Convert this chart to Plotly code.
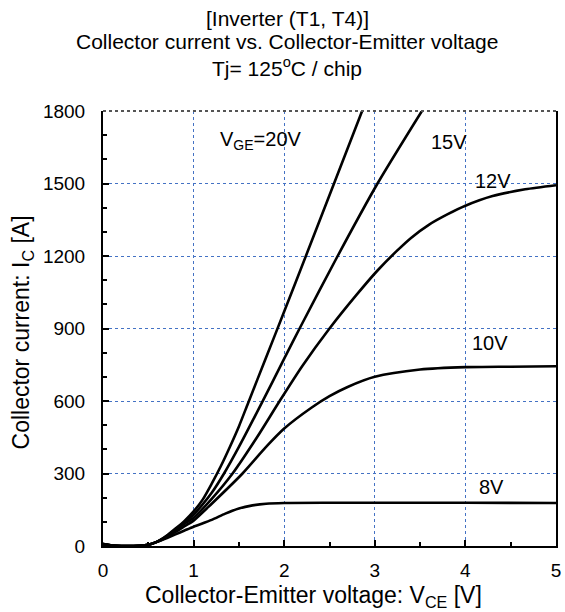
import plotly.graph_objects as go

# ---- data ----
vce_20 = [0, 0.1, 0.2, 0.4, 0.5, 0.6, 0.7, 0.8, 0.9, 1.0, 1.1, 1.2, 1.3, 1.4, 1.5, 1.6, 1.8, 2.0, 2.25, 2.55, 2.86]
ic_20 = [8, 2, 0, 1, 5, 18, 42, 72, 104, 143, 192, 258, 330, 410, 495, 590, 780, 970, 1210, 1500, 1800]

vce_15 = [0, 0.1, 0.2, 0.4, 0.5, 0.6, 0.7, 0.8, 0.9, 1.0, 1.1, 1.2, 1.336, 1.5, 1.75, 2.0, 2.17, 2.59, 3.03, 3.52]
ic_15 = [8, 2, 0, 1, 5, 18, 40, 68, 98, 130, 172, 220, 300, 410, 590, 775, 900, 1200, 1500, 1800]

vce_12 = [0, 0.1, 0.2, 0.4, 0.5, 0.6, 0.7, 0.8, 0.9, 1.0, 1.2, 1.43, 1.7, 1.95, 2.2, 2.5, 2.8, 3.03,
          3.24, 3.4, 3.6, 3.8, 4.0, 4.3, 4.66, 5.0]
ic_12 = [8, 2, 0, 1, 5, 18, 38, 64, 92, 117, 195, 300, 450, 600, 745, 900, 1040, 1140,
         1220, 1275, 1330, 1372, 1408, 1448, 1476, 1493]

vce_10 = [0, 0.1, 0.2, 0.4, 0.5, 0.6, 0.7, 0.8, 0.9, 1.0, 1.2, 1.54, 1.8, 2.0, 2.3, 2.5, 2.7, 3.0, 3.5, 4.0, 4.5, 5.0]
ic_10 = [8, 2, 0, 1, 5, 18, 36, 58, 82, 105, 175, 300, 410, 486, 572, 620, 658, 700, 730, 740, 742, 744]

vce_8 = [0, 0.1, 0.2, 0.4, 0.5, 0.6, 0.7, 0.8, 0.9, 1.0, 1.2, 1.35, 1.5, 1.65, 1.8, 2.0, 2.5, 3.0, 4.0, 5.0]
ic_8 = [8, 2, 0, 1, 5, 17, 32, 48, 64, 80, 108, 134, 155, 168, 175, 178, 179, 179, 179, 178]

series = [(vce_20, ic_20), (vce_15, ic_15), (vce_12, ic_12), (vce_10, ic_10), (vce_8, ic_8)]

curve_labels = ["V<sub>GE</sub>=20V", "15V", "12V", "10V", "8V"]
label_x = [1.74, 3.82, 4.31, 4.27, 4.29]
label_y = [1677, 1673, 1511, 838, 244]

x_ticks = [0, 1, 2, 3, 4, 5]
y_ticks = [0, 300, 600, 900, 1200, 1500, 1800]

title_lines = ["[Inverter (T1, T4)]",
               "Collector current vs. Collector-Emitter voltage",
               "Tj= 125<sup>o</sup>C / chip"]
x_title = "Collector-Emitter voltage: V<sub>CE</sub> [V]"
y_title = "Collector current: I<sub>C</sub> [A]"

# ---- figure ----
W, H = 565, 612
ml, mr, mt, mb = 102.5, 4, 111, 66
pw, ph = W - ml - mr, H - mt - mb
FONT = "Arial, Liberation Sans, sans-serif"

fig = go.Figure()
for vx, iy in series:
    fig.add_trace(go.Scatter(x=vx, y=iy, mode="lines",
                             line=dict(color="black", width=2.6, shape="spline", smoothing=0.7),
                             showlegend=False, hoverinfo="skip", cliponaxis=True))

for t, lx, ly in zip(curve_labels, label_x, label_y):
    fig.add_annotation(x=lx, y=ly, xref="x", yref="y", text=t, showarrow=False,
                       font=dict(family=FONT, size=20, color="black"))

def px_to_paper_x(px):
    return (px - ml) / pw

def px_to_paper_y(py):
    return (H - mb - py) / ph

for line, yc in zip(title_lines, [18, 42, 67]):
    fig.add_annotation(x=px_to_paper_x(289), y=px_to_paper_y(yc), xref="paper", yref="paper",
                       text=line, showarrow=False, xanchor="center", yanchor="middle",
                       font=dict(family=FONT, size=21, color="black"))

fig.add_annotation(x=px_to_paper_x(316), y=px_to_paper_y(596), xref="paper", yref="paper",
                   text=x_title, showarrow=False, xanchor="center", yanchor="middle",
                   font=dict(family=FONT, size=23, color="black"))
fig.add_annotation(x=px_to_paper_x(21), y=px_to_paper_y(332), xref="paper", yref="paper",
                   text=y_title, showarrow=False, xanchor="center", yanchor="middle",
                   textangle=-90, font=dict(family=FONT, size=23, color="black"))

grid = dict(showgrid=True, gridcolor="#4472C4", griddash="dot", gridwidth=1)

fig.update_xaxes(range=[0, 5], tickvals=x_ticks, ticks="inside", ticklen=6, tickwidth=1.5,
                 tickcolor="black", showline=True, linecolor="black", linewidth=2,
                 zeroline=False, minor=dict(dtick=0.5, ticks="inside", ticklen=4,
                                             tickcolor="black", showgrid=False),
                 tickfont=dict(family=FONT, size=19, color="black"), ticklabelstandoff=6,
                 **grid)
fig.update_yaxes(range=[0, 1800], tickvals=y_ticks, ticks="inside", ticklen=6, tickwidth=1.5,
                 tickcolor="black", showline=True, linecolor="black", linewidth=2, mirror=True,
                 zeroline=False, minor=dict(dtick=100, ticks="inside", ticklen=4,
                                             tickcolor="black", showgrid=False),
                 tickfont=dict(family=FONT, size=19, color="black"), ticklabelstandoff=12,
                 **grid)

# top border (dark dotted)
fig.add_shape(type="line", xref="paper", yref="paper", x0=0, x1=1, y0=1, y1=1,
              line=dict(color="#555555", width=2, dash="dot"))

fig.update_layout(width=W, height=H, margin=dict(l=ml, r=mr, t=mt, b=mb),
                  paper_bgcolor="white", plot_bgcolor="white",
                  font=dict(family=FONT, color="black"))

fig.write_html("out.html")
